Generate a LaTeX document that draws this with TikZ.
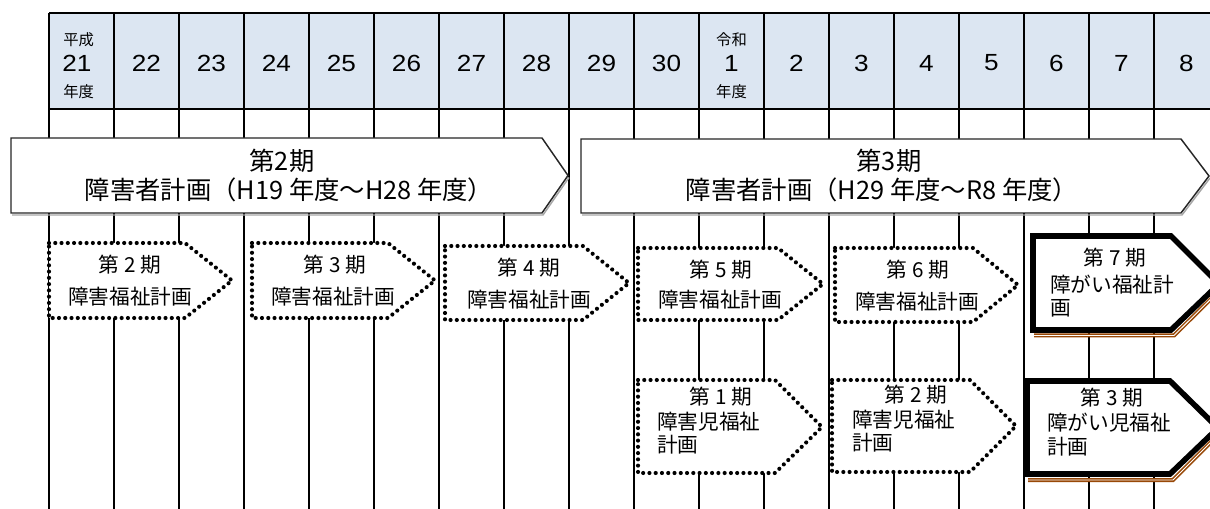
\documentclass[tikz,border=0pt]{standalone}
\usepackage{fontspec}
\newfontfamily\jp{Noto Sans CJK JP}
\newfontfamily\numf{Liberation Sans}[FakeStretch=1.12]
\definecolor{hdr}{HTML}{DCE6F2}
\definecolor{shbrown}{HTML}{984807}
\newcommand{\kiLabel}[1]{{\jp 第}\ #1\ {\jp 期}}
\begin{document}
\begin{tikzpicture}[x=0.75pt,y=-0.75pt,
  grid/.style={line width=1.3pt},
  bigarrow/.style={draw=black!85, line width=1.1pt, fill=white},
  bigshadow/.style={draw=black!35, line width=1.1pt},
  dotbox/.style={draw, fill=white, line width=3.1pt, line cap=round, dash pattern=on 0pt off 4.7pt},
  thickbox/.style={draw, fill=white, line width=4.2pt, line join=miter},
  shadowb/.style={draw=shbrown, line width=3pt, line join=miter},
  shadoww/.style={draw=white, line width=0.7pt, line join=miter},
  hdrnum/.style={font=\numf\fontsize{17.5}{20}\selectfont, inner sep=0pt},
  smalljp/.style={font=\jp\fontsize{11.5}{13}\selectfont, inner sep=0pt},
  bigtxt/.style={font=\jp\fontsize{19}{22}\selectfont, inner sep=0pt},
  boxtxt/.style={font=\jp\fontsize{15.5}{18}\selectfont, inner sep=0pt},
]
\useasboundingbox (0,0) rectangle (1210,509);
\clip (0,0) rectangle (1210,509);

% header
\fill[hdr] (49,13) rectangle (1219,109);
\foreach \i in {0,...,18} \draw[grid] ({49+65*\i},13) -- ({49+65*\i},509);
\draw[grid] (49,13) -- (1219,13);
\draw[grid] (49,109) -- (1219,109);

\node[smalljp, anchor=west] (h21a) at (63,40) {平成};
\node[hdrnum, anchor=west] (h21b) at (62,63) {21};
\node[smalljp, anchor=west] (h21c) at (63,92) {年度};
\foreach \lab [count=\k] in {22,23,24,25,26,27,28,29,30}
  \node[hdrnum] (hy\k) at ({49+65*\k+32.5},63) {\lab};
\node[smalljp] (r1a) at (731.5,40) {令和};
\node[hdrnum] (r1b) at (731.5,63) {1};
\node[smalljp] (r1c) at (731.5,92) {年度};
\foreach \lab [count=\k] in {2,3,4,5,6,7,8}
  \node[hdrnum] (ry\k) at ({49+65*(\k+10)+32.5},63) {\lab};

% big arrows
\draw[bigshadow] (12,215) -- (543,215) -- (569,177.5);
\draw[bigarrow] (11,138) -- (542,138) -- (568,175.5) -- (542,213) -- (11,213) -- cycle;
\draw[bigshadow] (582,215) -- (1182,215) -- (1210,178);
\draw[bigarrow] (581,139) -- (1181,139) -- (1209,176) -- (1181,213) -- (581,213) -- cycle;
\node[bigtxt] (a1t1) at (282,161) {第2期};
\node[bigtxt] (a1t2) at (289,190) {障害者計画（H19 年度～H28 年度）};
\node[bigtxt] (a2t1) at (889,161) {第3期};
\node[bigtxt] (a2t2) at (882,190) {障害者計画（H29 年度～R8 年度）};

% dotted boxes (upper row)
\draw[dotbox] (49,243) -- (185,243) -- (232,280.5) -- (185,318) -- (49,318) -- cycle;
\draw[dotbox] (252,243) -- (388,243) -- (435,280.5) -- (388,318) -- (252,318) -- cycle;
\draw[dotbox] (445,246) -- (583,246) -- (629,283) -- (583,320) -- (445,320) -- cycle;
\draw[dotbox] (638,248) -- (778,248) -- (823,284) -- (778,320) -- (638,320) -- cycle;
\draw[dotbox] (835,248) -- (973,248) -- (1018,285) -- (973,322) -- (835,322) -- cycle;

\node[boxtxt] (b2a) at (130,265) {\kiLabel{2}};
\node[boxtxt, anchor=west] (b2b) at (68,297) {障害福祉計画};
\node[boxtxt] (b3a) at (335,265) {\kiLabel{3}};
\node[boxtxt, anchor=west] (b3b) at (271,297) {障害福祉計画};
\node[boxtxt] (b4a) at (529,268) {\kiLabel{4}};
\node[boxtxt, anchor=west] (b4b) at (467,300) {障害福祉計画};
\node[boxtxt] (b5a) at (721,270) {\kiLabel{5}};
\node[boxtxt, anchor=west] (b5b) at (658,300) {障害福祉計画};
\node[boxtxt] (b6a) at (918,270) {\kiLabel{6}};
\node[boxtxt, anchor=west] (b6b) at (855,302) {障害福祉計画};

% thick box 7
\draw[shadowb] (1034,335.5) -- (1174,335.5) -- (1224,286);
\draw[shadoww] (1034,335.5) -- (1174,335.5) -- (1224,286);
\draw[thickbox] (1033,236) -- (1171,236) -- (1219,284) -- (1171,330) -- (1033,330) -- cycle;
\node[boxtxt] (b7a) at (1115,258) {\kiLabel{7}};
\node[boxtxt, anchor=west] (b7b) at (1050,285) {障がい福祉計};
\node[boxtxt, anchor=west] (b7c) at (1050,308) {画};

% lower row
\draw[dotbox] (638,380) -- (775,380) -- (822,427) -- (775,473) -- (638,473) -- cycle;
\draw[dotbox] (832,380) -- (970,380) -- (1016,426) -- (970,472) -- (832,472) -- cycle;
\node[boxtxt] (c1a) at (721,397) {\kiLabel{1}};
\node[boxtxt, anchor=west] (c1b) at (657,422) {障害児福祉};
\node[boxtxt, anchor=west] (c1c) at (657,445) {計画};
\node[boxtxt] (c2a) at (916,395) {\kiLabel{2}};
\node[boxtxt, anchor=west] (c2b) at (852,420) {障害児福祉};
\node[boxtxt, anchor=west] (c2c) at (852,443) {計画};

\draw[shadowb] (1028,480) -- (1173,480) -- (1223,430);
\draw[shadoww] (1028,480) -- (1173,480) -- (1223,430);
\draw[thickbox] (1027,381) -- (1170,381) -- (1218,428) -- (1170,474) -- (1027,474) -- cycle;
\node[boxtxt] (c3a) at (1112,398) {\kiLabel{3}};
\node[boxtxt, anchor=west] (c3b) at (1047,423) {障がい児福祉};
\node[boxtxt, anchor=west] (c3c) at (1047,447) {計画};
\end{tikzpicture}
\end{document}
